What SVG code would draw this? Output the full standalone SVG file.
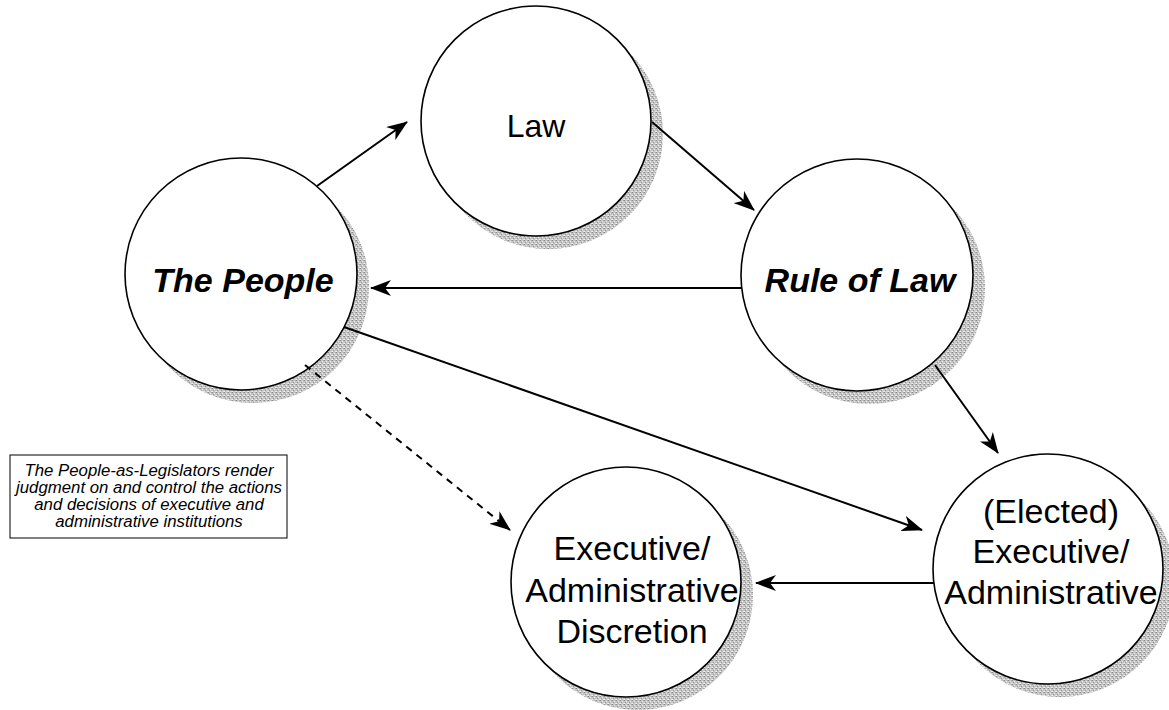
<svg xmlns="http://www.w3.org/2000/svg" width="1169" height="710" viewBox="0 0 1169 710">
<style>
.node{fill:#fff;stroke:#000;stroke-width:1.6}
.shadow{fill:url(#stip)}
.lbl{font-family:"Liberation Sans",Arial,sans-serif;font-size:34px;fill:#000;text-anchor:middle}
.bi{font-weight:bold;font-style:italic}
.conn{stroke:#000;stroke-width:2;fill:none}
.dash{stroke-dasharray:7,6}
.note{font-family:"Liberation Sans",Arial,sans-serif;font-size:16.8px;font-style:italic;fill:#000;text-anchor:middle}
</style>
<defs>
<pattern id="stip" width="4" height="4" patternUnits="userSpaceOnUse">
<rect width="4" height="4" fill="#c4c4c4"/>
<rect x="0" y="0" width="1" height="1" fill="#8a8a8a"/>
<rect x="2" y="1" width="1" height="1" fill="#ececec"/>
<rect x="1" y="2" width="1" height="1" fill="#9a9a9a"/>
<rect x="3" y="3" width="1" height="1" fill="#e4e4e4"/>
<rect x="3" y="0" width="1" height="1" fill="#aaaaaa"/>
<rect x="0" y="3" width="1" height="1" fill="#f0f0f0"/>
</pattern>
<marker id="arr" markerUnits="userSpaceOnUse" markerWidth="22" markerHeight="16" refX="20" refY="8" orient="auto">
<path d="M0,0 L21,8 L0,16 L6,8 Z" fill="#000"/>
</marker>
</defs>
<g id="people">
<circle class="shadow" cx="253" cy="287" r="116"/>
<circle class="node" cx="241" cy="274" r="116"/>
<text class="lbl bi" x="243" y="292">The People</text>
</g>
<g id="law">
<circle class="shadow" cx="548" cy="134" r="115"/>
<circle class="node" cx="536" cy="121" r="115"/>
<text class="lbl" x="536" y="137" style="font-size:32px">Law</text>
</g>
<g id="rule">
<circle class="shadow" cx="869" cy="288" r="116"/>
<circle class="node" cx="857" cy="275" r="116"/>
<text class="lbl bi" x="860" y="292">Rule of Law</text>
</g>
<g id="discretion">
<circle class="shadow" cx="638" cy="595" r="115"/>
<circle class="node" cx="626" cy="582" r="115"/>
<text class="lbl" x="632" y="560">Executive/</text>
<text class="lbl" x="632" y="602">Administrative</text>
<text class="lbl" x="632" y="643">Discretion</text>
</g>
<g id="elected">
<circle class="shadow" cx="1060" cy="582" r="115"/>
<circle class="node" cx="1048" cy="569" r="115"/>
<text class="lbl" x="1051" y="523">(Elected)</text>
<text class="lbl" x="1051" y="563">Executive/</text>
<text class="lbl" x="1051" y="604">Administrative</text>
</g>
<g id="note">
<rect x="10" y="455" width="277" height="83" fill="#fff" stroke="#000" stroke-width="1"/>
<text class="note" x="149" y="476">The People-as-Legislators render</text>
<text class="note" x="149" y="493">judgment on and control the actions</text>
<text class="note" x="149" y="510">and decisions of executive and</text>
<text class="note" x="149" y="527">administrative institutions</text>
</g>
<g id="connectors">
<line class="conn" x1="317" y1="186" x2="407" y2="122" marker-end="url(#arr)"/>
<line class="conn" x1="652" y1="122" x2="754" y2="210" marker-end="url(#arr)"/>
<line class="conn" x1="742" y1="288" x2="371" y2="288" marker-end="url(#arr)"/>
<line class="conn" x1="344" y1="327" x2="922" y2="530" marker-end="url(#arr)"/>
<line class="conn" x1="935" y1="365" x2="998" y2="453" marker-end="url(#arr)"/>
<line class="conn" x1="934" y1="583" x2="756" y2="583" marker-end="url(#arr)"/>
<line class="conn dash" x1="305" y1="365" x2="510" y2="530" stroke-width="1.5" marker-end="url(#arr)"/>
</g>
</svg>
